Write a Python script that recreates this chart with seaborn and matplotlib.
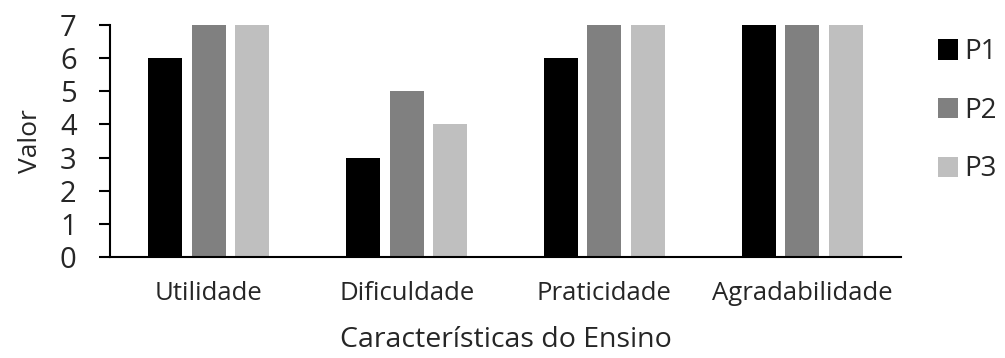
import matplotlib
matplotlib.use("Agg")
import matplotlib.pyplot as plt
import seaborn as sns
import pandas as pd
from matplotlib.patches import Patch

# Scores per teaching characteristic for each participant
categorias = ["Utilidade", "Dificuldade", "Praticidade", "Agradabilidade"]
p1 = [6, 3, 6, 7]
p2 = [7, 5, 7, 7]
p3 = [7, 4, 7, 7]
series = ["P1", "P2", "P3"]
cores = ["#000000", "#808080", "#BFBFBF"]
yticks = [0, 1, 2, 3, 4, 5, 6, 7]

df = pd.DataFrame({
    "Característica": categorias * 3,
    "Valor": p1 + p2 + p3,
    "Série": [s for s in series for _ in categorias],
})

sns.set_style("white")
plt.rcParams["font.family"] = ["Open Sans", "DejaVu Sans"]

fig = plt.figure(figsize=(10.05, 3.58), dpi=100)
ax = fig.add_axes([0.1095, 0.282, 0.787, 0.648])

sns.barplot(data=df, x="Característica", y="Valor", hue="Série",
            order=categorias, hue_order=series, palette=cores,
            width=0.66, gap=0.22, saturation=1, linewidth=0,
            errorbar=None, legend=False, ax=ax)

ax.set_xlim(-0.5, len(categorias) - 0.5)
ax.set_ylim(0, 7)
ax.set_yticks(yticks)
ax.set_yticklabels([str(v) for v in yticks], fontsize=21)

# Category labels centred, tick marks on the category boundaries
ax.set_xticks(range(len(categorias)))
ax.set_xticklabels(categorias, fontsize=18.5)
ax.tick_params(axis="x", which="major", length=0, pad=17)
ax.set_xticks([i - 0.5 for i in range(len(categorias) + 1)], minor=True)
ax.tick_params(axis="x", which="minor", direction="out", length=8, width=1.5, color="black")
ax.tick_params(axis="y", direction="out", length=8, width=1.5, color="black", pad=16, left=True)

for side in ["top", "right"]:
    ax.spines[side].set_visible(False)
for side in ["left", "bottom"]:
    ax.spines[side].set_color("black")
    ax.spines[side].set_linewidth(1.5)

ax.set_xlabel("Características do Ensino", fontsize=20.5, labelpad=15)
ax.set_ylabel("Valor", fontsize=19, labelpad=12)

handles = [Patch(facecolor=c, edgecolor="none", label=s) for s, c in zip(series, cores)]
fig.legend(handles=handles, loc="upper left", bbox_to_anchor=(0.933, 0.893),
           frameon=False, fontsize=20, handlelength=0.75, handleheight=0.75,
           handletextpad=0.2, labelspacing=1.1, borderaxespad=0, borderpad=0)

fig.savefig("out.png", dpi=100)
